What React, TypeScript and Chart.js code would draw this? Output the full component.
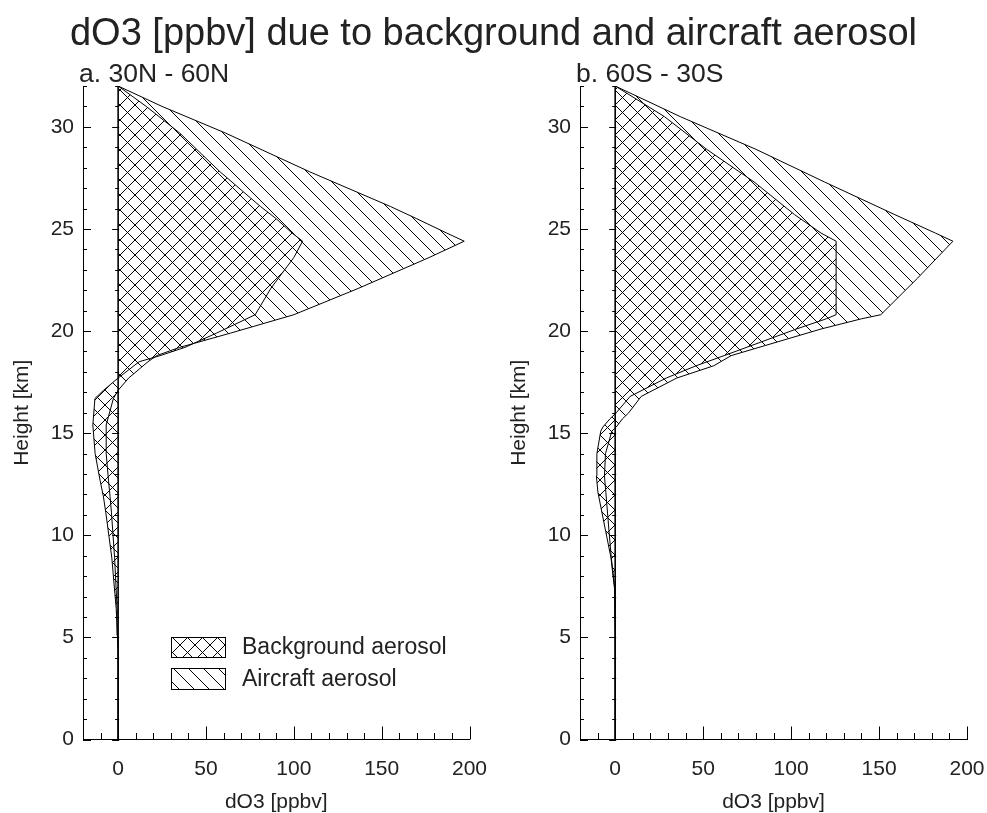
import React, { useEffect, useRef } from 'react';
import { Chart, registerables } from 'chart.js';

Chart.register(...registerables);

// ---------- text ----------
const mainTitle = 'dO3 [ppbv] due to background and aircraft aerosol';
const panelTitleA = 'a. 30N - 60N';
const panelTitleB = 'b. 60S - 30S';
const xAxisTitle = 'dO3 [ppbv]';
const yAxisTitle = 'Height [km]';
const seriesLabels = ['Background aerosol', 'Aircraft aerosol'];

// ---------- ticks ----------
const xMajorTicks = [0, 50, 100, 150, 200];
const xMinorTicks = [-20, -10, 0, 10, 20, 30, 40, 50, 60, 70, 80, 90, 100, 110, 120, 130, 140, 150, 160, 170, 180, 190, 200];
const yMajorTicks = [0, 5, 10, 15, 20, 25, 30];
const yMinorTicks = [0, 1, 2, 3, 4, 5, 6, 7, 8, 9, 10, 11, 12, 13, 14, 15, 16, 17, 18, 19, 20, 21, 22, 23, 24, 25, 26, 27, 28, 29, 30, 31, 32];

// ---------- panel a: 30N - 60N ----------
const heightsA = [0, 4.3, 5.1, 6.4, 8.9, 11.1, 11.9, 12.7, 14.0, 15.4, 16.7, 17.1, 17.7, 18.5, 18.8, 19.2, 19.9, 20.8, 22.1, 23.6, 24.4, 24.8, 25.5, 26.1, 27.8, 29.7, 31.0, 32];
const backgroundA = [0, 0, -0.4, -1.1, -3.6, -7.0, -8.4, -10.3, -13.1, -14.4, -13.2, -8.3, 0, 12, 24, 38, 56, 78, 87, 100, 105, 99, 90, 81, 58, 35, 16, 0];
const totalA = [0, 0, -0.2, -0.6, -2.0, -3.8, -4.6, -5.5, -6.8, -6.8, -2.7, 0, 6, 17, 22, 35, 64, 100, 137, 177, 197, 187, 170, 155, 109, 61, 25, 0];

// ---------- panel b: 60S - 30S ----------
const heightsB = [0, 5.3, 7.4, 8.9, 10.2, 12.1, 12.9, 14.0, 15.1, 15.3, 15.7, 16.0, 16.8, 17.7, 18.3, 18.8, 20.1, 20.6, 20.8, 22.6, 24.4, 24.8, 25.7, 27.3, 28.9, 30.5, 32];
const backgroundB = [0, 0, -0.4, -2.4, -5.4, -9.8, -10.7, -10.4, -8.2, -7.0, -3.0, 0.6, 8.5, 29, 46, 62, 103, 120, 125.6, 125.6, 125.6, 117, 102, 79, 52, 28, 0];
const totalB = [0, 0, -0.2, -2.2, -3.5, -5.3, -6.1, -5.5, -1.9, 0.6, 4.1, 7.7, 14.8, 35, 56, 66, 117, 140, 151, 172, 192, 182, 159, 119, 80, 37, 0];

// ---------- layout ----------
const W = 987;
const H = 813;
const FONT = '"Liberation Sans", Arial, Helvetica, sans-serif';
const TEXT = '#222';

function makePattern(ctx: CanvasRenderingContext2D, kind: 'cross' | 'back') {
  const s = 15;
  const tile = document.createElement('canvas');
  tile.width = s;
  tile.height = s;
  const t = tile.getContext('2d')!;
  t.strokeStyle = '#000';
  t.lineWidth = 1;
  t.beginPath();
  for (const o of [-s, 0, s]) {
    t.moveTo(o, 0);
    t.lineTo(o + s, s);
    if (kind === 'cross') {
      t.moveTo(o + s, 0);
      t.lineTo(o, s);
    }
  }
  t.stroke();
  return ctx.createPattern(tile, 'repeat')!;
}

type PanelProps = {
  heights: number[];
  background: number[];
  total: number[];
  subtitle: string;
  padLeft: number;
  padRight: number;
  withTitle: boolean;
  withLegend: boolean;
};

function Panel(p: PanelProps) {
  const ref = useRef<HTMLCanvasElement>(null);
  useEffect(() => {
    const canvas = ref.current!;
    const c2d = canvas.getContext('2d')!;
    const patterns = { cross: makePattern(c2d, 'cross'), back: makePattern(c2d, 'back') };

    const hatch = {
      id: 'hatchFill',
      beforeDatasetsDraw(chart: any) {
        const ctx = chart.ctx as CanvasRenderingContext2D;
        const xs = chart.scales.x;
        const x0 = xs.getPixelForValue(0);
        const bg = chart.getDatasetMeta(0).data;
        const tot = chart.getDatasetMeta(1).data;
        const a = chart.chartArea;
        ctx.save();
        ctx.beginPath();
        ctx.rect(a.left, a.top - 1, a.right - a.left, a.bottom - a.top + 2);
        ctx.clip();
        // background region: between x = 0 and background curve
        ctx.beginPath();
        ctx.moveTo(x0, bg[0].y);
        bg.forEach((pt: any) => ctx.lineTo(pt.x, pt.y));
        ctx.lineTo(x0, bg[bg.length - 1].y);
        ctx.closePath();
        ctx.fillStyle = patterns.cross;
        ctx.fill();
        // aircraft region: between background curve and total curve
        ctx.beginPath();
        bg.forEach((pt: any, i: number) => (i ? ctx.lineTo(pt.x, pt.y) : ctx.moveTo(pt.x, pt.y)));
        for (let i = tot.length - 1; i >= 0; i--) ctx.lineTo(tot[i].x, tot[i].y);
        ctx.closePath();
        ctx.fillStyle = patterns.back;
        ctx.fill();
        ctx.restore();
      },
      afterDraw(chart: any) {
        const ctx = chart.ctx as CanvasRenderingContext2D;
        const xs = chart.scales.x;
        const ys = chart.scales.y;
        const { left, top, bottom } = chart.chartArea;
        const seg = (x1: number, y1: number, x2: number, y2: number) => {
          ctx.beginPath();
          ctx.moveTo(x1, y1);
          ctx.lineTo(x2, y2);
          ctx.stroke();
        };
        ctx.save();
        ctx.strokeStyle = '#000';
        ctx.lineWidth = 1;
        // left axis ticks (inward)
        yMinorTicks.forEach((v) => {
          const y = Math.round(ys.getPixelForValue(v)) + 0.5;
          seg(left, y, left + (yMajorTicks.includes(v) ? 8 : 4), y);
        });
        // bottom axis ticks (inward)
        xMinorTicks.forEach((v) => {
          const x = Math.round(xs.getPixelForValue(v)) + 0.5;
          seg(x, bottom, x, bottom - (xMajorTicks.includes(v) ? 13 : 6.5));
        });
        // zero axis
        const x0 = xs.getPixelForValue(0);
        ctx.lineWidth = 1.6;
        seg(x0, bottom, x0, top);
        ctx.lineWidth = 1;
        yMinorTicks.forEach((v) => {
          const y = Math.round(ys.getPixelForValue(v)) + 0.5;
          seg(x0 - (yMajorTicks.includes(v) ? 6 : 3), y, x0 + 1, y);
        });

        // texts
        ctx.fillStyle = TEXT;
        ctx.textBaseline = 'alphabetic';
        if (p.withTitle) {
          ctx.font = `38px ${FONT}`;
          ctx.textAlign = 'center';
          ctx.fillText(mainTitle, 493.5, 45);
        }
        ctx.font = `26.5px ${FONT}`;
        ctx.textAlign = 'left';
        ctx.fillText(p.subtitle, left - 4, 82);

        if (p.withLegend) {
          const boxes = [
            { y: 637, h: 20, pat: patterns.cross, label: chart.data.datasets[0].label },
            { y: 668, h: 21, pat: patterns.back, label: chart.data.datasets[1].label },
          ];
          boxes.forEach((b) => {
            ctx.fillStyle = b.pat;
            ctx.fillRect(171, b.y, 54, b.h);
            ctx.strokeStyle = '#000';
            ctx.lineWidth = 1;
            ctx.strokeRect(171.5, b.y + 0.5, 54, b.h);
            ctx.fillStyle = TEXT;
            ctx.font = `23px ${FONT}`;
            ctx.textBaseline = 'middle';
            ctx.textAlign = 'left';
            ctx.fillText(b.label, 242, b.y + b.h / 2 + 1);
          });
        }
        ctx.restore();
      },
    };

    const lineStyle = { borderColor: '#000', borderWidth: 1, pointRadius: 0, fill: false, tension: 0 };

    const chart = new Chart(canvas, {
      type: 'line',
      data: {
        datasets: [
          { label: seriesLabels[0], data: p.heights.map((h, i) => ({ x: p.background[i], y: h })), ...lineStyle },
          { label: seriesLabels[1], data: p.heights.map((h, i) => ({ x: p.total[i], y: h })), ...lineStyle },
        ],
      },
      options: {
        indexAxis: 'y',
        responsive: false,
        animation: false,
        events: [],
        layout: { padding: { left: p.padLeft, right: p.padRight, top: 86, bottom: 0 } },
        plugins: { legend: { display: false }, tooltip: { enabled: false }, title: { display: false } },
        scales: {
          x: {
            type: 'linear',
            position: 'bottom',
            min: -20,
            max: 200,
            afterBuildTicks: (s: any) => {
              s.ticks = xMajorTicks.map((v) => ({ value: v }));
            },
            afterFit: (s: any) => {
              s.height = H - 739.5;
              s.paddingLeft = 0;
              s.paddingRight = 0;
            },
            ticks: { font: { family: FONT, size: 21, lineHeight: 1 }, color: TEXT, padding: 19, maxRotation: 0, autoSkip: false },
            grid: { drawOnChartArea: false, drawTicks: false },
            border: { display: true, color: '#000', width: 1 },
            title: { display: true, text: xAxisTitle, font: { family: FONT, size: 21, lineHeight: 1 }, color: TEXT, padding: { top: 0, bottom: 0 } },
          },
          y: {
            type: 'linear',
            position: 'left',
            min: 0,
            max: 32,
            afterBuildTicks: (s: any) => {
              s.ticks = yMajorTicks.map((v) => ({ value: v }));
            },
            afterFit: (s: any) => {
              s.width = 83;
              s.paddingTop = 0;
              s.paddingBottom = 0;
            },
            ticks: { font: { family: FONT, size: 21, lineHeight: 1 }, color: TEXT, padding: 9, autoSkip: false },
            grid: { drawOnChartArea: false, drawTicks: false },
            border: { display: true, color: '#000', width: 1 },
            title: { display: true, text: yAxisTitle, font: { family: FONT, size: 21, lineHeight: 1 }, color: TEXT, padding: { top: 11.5, bottom: 0 } },
          },
        },
      },
      plugins: [hatch],
    } as any);
    return () => chart.destroy();
  }, []);
  return <canvas ref={ref} width={W} height={H} style={{ position: 'absolute', left: 0, top: 0, width: W, height: H }} />;
}

export default function App() {
  return (
    <div style={{ position: 'fixed', left: 0, top: 0, width: W, height: H, background: '#fff', overflow: 'hidden' }}>
      <Panel heights={heightsA} background={backgroundA} total={totalA} subtitle={panelTitleA} padLeft={0} padRight={W - 469.5} withTitle withLegend />
      <Panel heights={heightsB} background={backgroundB} total={totalB} subtitle={panelTitleB} padLeft={580 - 83} padRight={W - 967} withTitle={false} withLegend={false} />
    </div>
  );
}
